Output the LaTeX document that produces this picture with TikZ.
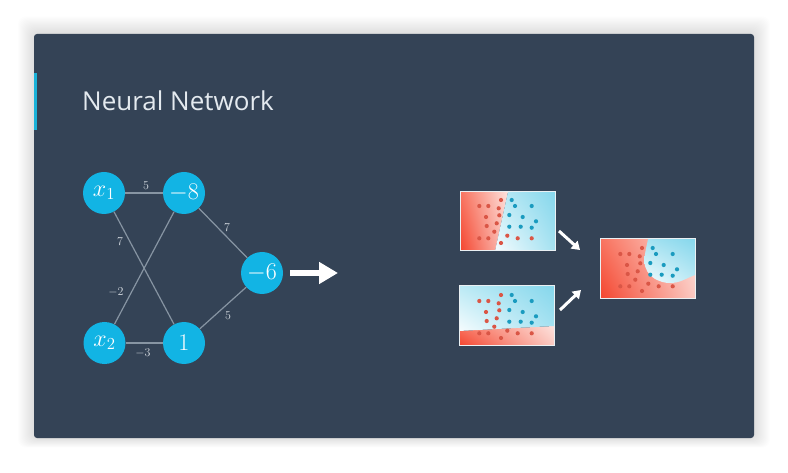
\RequirePackage{fix-cm}
\documentclass[tikz,border=0pt]{standalone}
\usepackage{fontspec}
\newfontfamily\titlefont{Open Sans}
\usetikzlibrary{arrows.meta,shadings}
\definecolor{slidebg}{HTML}{344356}
\definecolor{accent}{HTML}{1AB2D8}
\definecolor{nodecyan}{HTML}{12B4E4}
\definecolor{edgegray}{HTML}{8795A3}
\definecolor{labelgray}{HTML}{D5DBE1}
\definecolor{titlecol}{HTML}{E4EAEF}
\definecolor{reddot}{HTML}{DA5646}
\definecolor{bluedot}{HTML}{1A9BBF}
\definecolor{redA}{HTML}{F4442E}
\definecolor{redB}{HTML}{F8735F}
\definecolor{redC}{HTML}{FDE2DD}
\definecolor{redD}{HTML}{FBC9C1}
\definecolor{bluA}{HTML}{F6FCFE}
\definecolor{bluB}{HTML}{BCEAF5}
\definecolor{bluC}{HTML}{86D7EC}
\definecolor{bluD}{HTML}{A6E2F1}
\definecolor{panelborder}{HTML}{EAF0F3}
\tikzset{
  neuron/.style={circle, fill=nodecyan, minimum size=42bp, inner sep=0pt, text=white, font=\fontsize{24bp}{24bp}\selectfont},
  edge/.style={draw=edgegray, line width=1.2bp},
  wlabel/.style={text=labelgray, inner sep=1pt, font=\fontsize{12bp}{12bp}\selectfont},
  redshade/.style={lower left=redA, upper left=redB, lower right=redD, upper right=redC},
  blushade/.style={lower left=bluA, upper left=bluB, lower right=bluD, upper right=bluC},
  panelframe/.style={draw=panelborder, line width=1bp},
  bigarrow/.style={white, line width=6bp, -{Triangle[length=19bp,width=21bp]}},
  smallarrow/.style={white, line width=3bp, -{Triangle[length=8bp,width=10bp]}},
}
\newcommand\paneldots{%
  \foreach \p in {(19.3,14),(28.3,14),(41,8),(38.7,16.3),(26,25),(39.3,23.3),(26.7,34),(36.7,31.3),(34.3,39.7),(19.3,46.3),(28.3,46.3),(41,51),(47.3,43.7),(57.7,46.3),(71.7,46.3)}
    \fill[reddot] \p circle (2.1);
  \foreach \p in {(51.7,8),(55,14),(71.7,14),(49.3,23),(62.7,25),(76,29.3),(49.3,34.7),(60.7,34.7),(71.7,35.7)}
    \fill[bluedot] \p circle (2.1);
}
\begin{document}
\begin{tikzpicture}[x=1bp,y=-1bp]
\useasboundingbox (0,0) rectangle (788,473);
\fill[white] (0,0) rectangle (788,473);
% soft shadow
\foreach \i in {1,...,16}
  \fill[black, opacity=0.006, rounded corners=8bp] (34-\i,34-\i*1.1) rectangle (754+\i,438+\i*0.6);
\fill[slidebg, rounded corners=3bp] (34,34) rectangle (754,438);
\fill[accent] (34,73) rectangle (37,130);
\node[anchor=base west, inner sep=0pt, text=titlecol, font=\titlefont\fontsize{26bp}{30bp}\selectfont] (title) at (82,111) {Neural Network};

% network
\node[neuron] (x1) at (104,193) {$x_1$};
\node[neuron] (h1) at (184,193) {$-8$};
\node[neuron] (x2) at (104.5,343) {$x_2$};
\node[neuron] (h2) at (184,343) {$1$};
\node[neuron] (out) at (262,273) {$-6$};
\draw[edge] (x1) -- (h1);
\draw[edge] (x1) -- (h2);
\draw[edge] (x2) -- (h1);
\draw[edge] (x2) -- (h2);
\draw[edge] (h1) -- (out);
\draw[edge] (h2) -- (out);
\node[wlabel] (w1) at (146,186) {$5$};
\node[wlabel] (w2) at (120,242) {$7$};
\node[wlabel] (w3) at (116,292) {$-2$};
\node[wlabel] (w4) at (143,353) {$-3$};
\node[wlabel] (w5) at (227,228) {$7$};
\node[wlabel] (w6) at (228,316) {$5$};
\coordinate (bs) at (290,273);
\coordinate (be) at (338,273);
\draw[bigarrow] (bs) -- (be);

% panel A
\begin{scope}[shift={(460,192)}]
  \shade[redshade] (0,0) -- (48,0) -- (35,59) -- (0,59) -- cycle;
  \shade[blushade] (48,0) -- (95,0) -- (95,59) -- (35,59) -- cycle;
  \paneldots
  \draw[panelframe] (0,0) rectangle (95,59);
\end{scope}
% panel B
\begin{scope}[shift={(459,286)}]
  \shade[redshade] (0,45) -- (95,40) -- (95,60) -- (0,60) -- cycle;
  \shade[blushade] (0,0) -- (95,0) -- (95,40) -- (0,45) -- cycle;
  \begin{scope}[shift={(1,1)}]\paneldots\end{scope}
  \draw[panelframe] (0,0) rectangle (95,60);
\end{scope}
% panel C
\begin{scope}[shift={(600,239)}]
  \shade[redshade] (0,0) rectangle (95,60);
  \shade[lower left=bluA, upper left=bluD, lower right=bluB, upper right=bluC]
    (48,0) to[out=-100,in=90] (44.5,22) to[out=-90,in=145] (55,40) to[out=-25,in=180] (70,44) to[out=0,in=200] (95,36) -- (95,0) -- cycle;
  \begin{scope}[shift={(1,1)}]\paneldots\end{scope}
  \draw[panelframe] (0,0) rectangle (95,60);
\end{scope}
\coordinate (a1s) at (559,231);
\coordinate (a1e) at (580,250);
\coordinate (a2s) at (560,310);
\coordinate (a2e) at (581,290);
\draw[smallarrow] (a1s) -- (a1e);
\draw[smallarrow] (a2s) -- (a2e);
\end{tikzpicture}
\end{document}
